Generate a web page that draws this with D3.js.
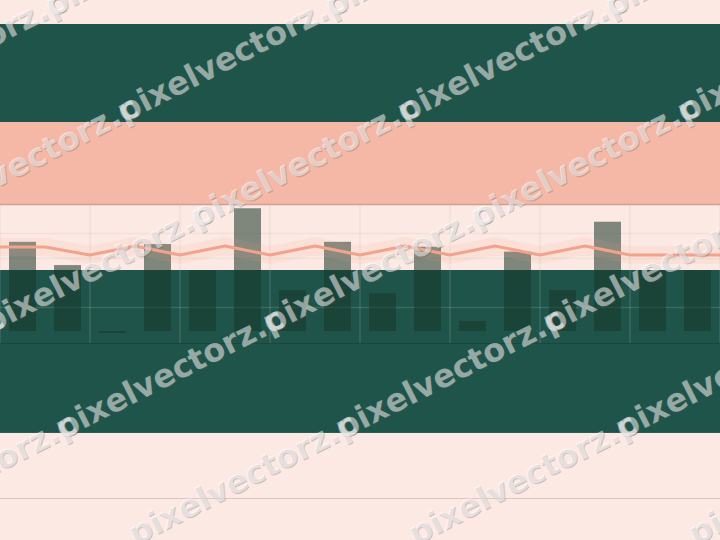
<!DOCTYPE html>
<html>
<head>
<meta charset="utf-8">
<script src="https://cdn.jsdelivr.net/npm/d3@7/dist/d3.min.js"></script>
<style>
html,body{margin:0;padding:0;background:#fde9e3;}
svg{display:block;}
</style>
</head>
<body>
<svg id="chart" width="720" height="540"></svg>
<script>
// ---- data ----
const categories = ["C1","C2","C3","C4","C5","C6","C7","C8","C9","C10","C11","C12","C13","C14","C15","C16"];
const barValues = [36.4, 26.9, -0.8, 35.5, 24.8, 50.1, 16.7, 36.4, 15.4, 34.4, 4.1, 32.4, 16.7, 44.6, 24.8, 24.8];
const linePoints = ["P0","P1","P2","P3","P4","P5","P6","P7","P8","P9","P10","P11","P12","P13","P14","P15","P16"];
const lineValues = [34.3, 34.3, 31.0, 34.7, 31.0, 34.7, 31.0, 34.7, 31.0, 34.7, 31.0, 34.7, 31.0, 34.7, 31.0, 31.0, 31.0];
const bandRanges = [[125.3, 85.3], [85.3, 51.4], [24.9, -41.6]];
const bandColors = ["#1e5449", "#f5b8a6", "#1e5449"];
const gridValues = [40, 30, 10];
const plotTop = 51.6;
const plotBottom = -4.9;
const lowerRule = -68.2;
const watermarkWord = "pixelvectorz.";
const watermarkTail = "c";

// ---- layout ----
const W = 720, H = 540;
const svg = d3.select("#chart");
const y = d3.scaleLinear().domain([0, 100]).range([331, 86]);
const x = d3.scaleBand().domain(categories).range([0, W]).paddingInner(0.4).paddingOuter(0.2);
const xl = d3.scalePoint().domain(linePoints).range([0, W]);

svg.append("rect").attr("width", W).attr("height", H).attr("fill", "#fde9e3");

// bands
svg.append("g").selectAll("rect").data(bandRanges).join("rect")
  .attr("x", 0).attr("width", W)
  .attr("y", d => y(d[0]))
  .attr("height", d => y(d[1]) - y(d[0]))
  .attr("fill", (d, i) => bandColors[i]);

// grid
const gridStroke = "rgb(190,188,178)";
const grid = svg.append("g");
grid.selectAll("line.h").data(gridValues).join("line").attr("class", "h")
  .attr("x1", 0).attr("x2", W).attr("y1", d => Math.round(y(d)) + 0.5).attr("y2", d => Math.round(y(d)) + 0.5)
  .attr("stroke", gridStroke).attr("stroke-opacity", 0.2).attr("stroke-width", 1.5);
grid.selectAll("line.v").data(linePoints.filter((d, i) => i % 2 === 0)).join("line").attr("class", "v")
  .attr("x1", d => xl(d)).attr("x2", d => xl(d)).attr("y1", y(plotTop)).attr("y2", y(plotBottom))
  .attr("stroke", gridStroke).attr("stroke-opacity", 0.2).attr("stroke-width", 1.5);
grid.append("line").attr("x1", 0).attr("x2", W).attr("y1", Math.round(y(plotBottom)) + 0.5).attr("y2", Math.round(y(plotBottom)) + 0.5)
  .attr("stroke", "#13392f").attr("stroke-opacity", 0.5).attr("stroke-width", 1);
grid.append("line").attr("x1", 0).attr("x2", W).attr("y1", y(plotTop)).attr("y2", y(plotTop))
  .attr("stroke", "#c9a398").attr("stroke-width", 1.5);
grid.append("line").attr("x1", 0).attr("x2", W).attr("y1", Math.round(y(lowerRule)) + 0.5).attr("y2", Math.round(y(lowerRule)) + 0.5)
  .attr("stroke", "#d8c6c0").attr("stroke-width", 1);

// bars
svg.append("g").selectAll("rect").data(barValues).join("rect")
  .attr("x", (d, i) => x(categories[i]))
  .attr("width", x.bandwidth())
  .attr("y", d => y(Math.max(0, d)))
  .attr("height", d => Math.abs(y(d) - y(0)))
  .attr("fill", "#17362a").attr("fill-opacity", 0.55);

// line
const lineGen = d3.line().x((d, i) => xl(linePoints[i])).y(d => y(d));
svg.append("path").datum(lineValues).attr("d", lineGen)
  .attr("fill", "none").attr("stroke", "#f2a68f").attr("stroke-opacity", 0.12).attr("stroke-width", 18).attr("stroke-linejoin", "round");
svg.append("path").datum(lineValues).attr("d", lineGen)
  .attr("fill", "none").attr("stroke", "#f3a38c").attr("stroke-width", 3).attr("stroke-linejoin", "round");

// watermark
const FS = 32, ANG = -27;
const wm = svg.append("g").attr("pointer-events", "none");
const probe = wm.append("text").attr("font-family", "DejaVu Sans, sans-serif").attr("font-weight", "bold")
  .attr("font-size", FS).text(watermarkWord);
const adv = probe.node().getComputedTextLength();
probe.remove();
const rad = ANG * Math.PI / 180;
const bx = adv * Math.cos(rad), by = adv * Math.sin(rad);
const anchors = [];
for (let i = -4; i <= 5; i++) {
  for (let j = -4; j <= 6; j++) {
    const ax = 124 + 280 * i + bx * j;
    const ay = 123 + by * j;
    if (ax > -320 && ax < 760 && ay > -20 && ay < 700) anchors.push([ax, ay]);
  }
}
const drawWM = (fill, op, dx, dy) => wm.append("g").selectAll("text").data(anchors).join("text")
  .attr("transform", d => `translate(${d[0] + dx},${d[1] + dy}) rotate(${ANG})`)
  .attr("font-family", "DejaVu Sans, sans-serif").attr("font-weight", "bold")
  .attr("font-size", FS)
  .attr("fill", fill).attr("fill-opacity", op)
  .text(watermarkWord + watermarkTail);
drawWM("#555", 0.28, 1, 1);
drawWM("#ffffff", 0.5, 0, 0);
</script>
</body>
</html>
